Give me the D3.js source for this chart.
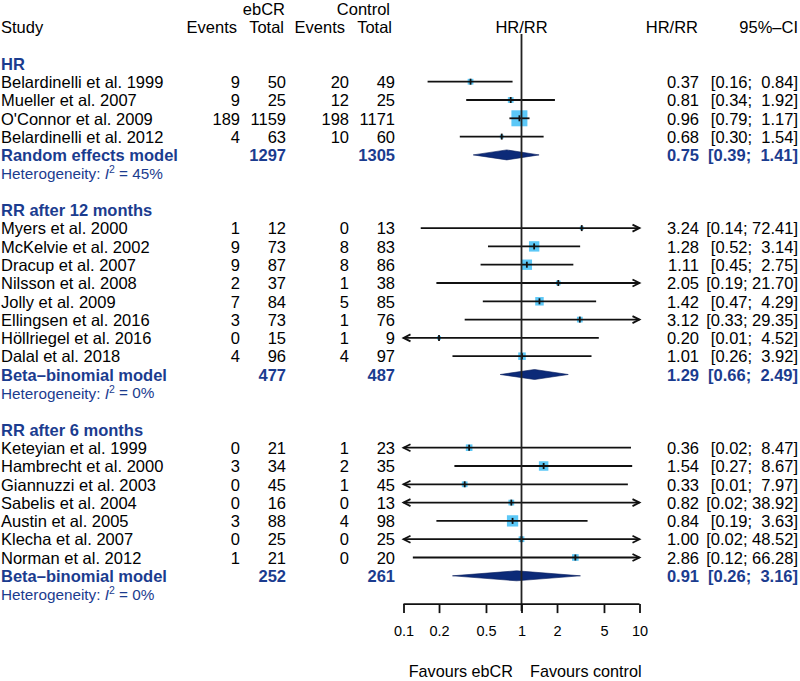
<!DOCTYPE html>
<html>
<head>
<meta charset="utf-8">
<script src="https://cdn.jsdelivr.net/npm/d3@7"></script>
<style>
  html, body { margin: 0; padding: 0; background: #fff; }
  svg text { font-family: "Liberation Sans", Arial, Helvetica, sans-serif; white-space: pre; }
</style>
</head>
<body>
<svg id="chart" width="800" height="681"></svg>
<script>
// ---------------- DATA ----------------
const groupLabels = ["HR", "RR after 12 months", "RR after 6 months"];

const studyGroup = [0,0,0,0, 1,1,1,1,1,1,1,1, 2,2,2,2,2,2,2];
const studyNames = [
  "Belardinelli et al. 1999", "Mueller et al. 2007", "O'Connor et al. 2009", "Belardinelli et al. 2012",
  "Myers et al. 2000", "McKelvie et al. 2002", "Dracup et al. 2007", "Nilsson et al. 2008",
  "Jolly et al. 2009", "Ellingsen et al. 2016", "Höllriegel et al. 2016", "Dalal et al. 2018",
  "Keteyian et al. 1999", "Hambrecht et al. 2000", "Giannuzzi et al. 2003", "Sabelis et al. 2004",
  "Austin et al. 2005", "Klecha et al. 2007", "Norman et al. 2012"
];
const eventsE = [9, 9, 189, 4,   1, 9, 9, 2, 7, 3, 0, 4,   0, 3, 0, 0, 3, 0, 1];
const totalE  = [50, 25, 1159, 63,   12, 73, 87, 37, 84, 73, 15, 96,   21, 34, 45, 16, 88, 25, 21];
const eventsC = [20, 12, 198, 10,   0, 8, 8, 1, 5, 1, 1, 4,   1, 2, 1, 0, 4, 0, 0];
const totalC  = [49, 25, 1171, 60,   13, 83, 86, 38, 85, 76, 9, 97,   23, 35, 45, 13, 98, 25, 20];
const estimate = [0.37, 0.81, 0.96, 0.68,   3.24, 1.28, 1.11, 2.05, 1.42, 3.12, 0.20, 1.01,   0.36, 1.54, 0.33, 0.82, 0.84, 1.00, 2.86];
const lowerCI  = [0.16, 0.34, 0.79, 0.30,   0.14, 0.52, 0.45, 0.19, 0.47, 0.33, 0.01, 0.26,   0.02, 0.27, 0.01, 0.02, 0.19, 0.02, 0.12];
const upperCI  = [0.84, 1.92, 1.17, 1.54,   72.41, 3.14, 2.75, 21.70, 4.29, 29.35, 4.52, 3.92,   8.47, 8.67, 7.97, 38.92, 3.63, 48.52, 66.28];
const weight   = [10, 10, 100, 3.5,   3.5, 39, 39, 6, 25, 10, 3.5, 19,   14, 32, 10, 10, 47, 10, 14];

const modelLabels = ["Random effects model", "Beta–binomial model", "Beta–binomial model"];
const modelTotalE = [1297, 477, 252];
const modelTotalC = [1305, 487, 261];
const modelEst    = [0.75, 1.29, 0.91];
const modelLower  = [0.39, 0.66, 0.26];
const modelUpper  = [1.41, 2.49, 3.16];
const hetI2       = ["45%", "0%", "0%"];

const tickValues = [0.1, 0.2, 0.5, 1, 2, 5, 10];
const tickLabels = ["0.1", "0.2", "0.5", "1", "2", "5", "10"];

// ---------------- LAYOUT ----------------
const BLUE = "#1b3c8f";
const NAVY = "#0c2a78";
const SQ = "#5cc8f7";
const FS = 16.5;
const LW = 1.8;
const svg = d3.select("#chart");

const x = d3.scaleLog().domain([0.1, 10]).range([403.5, 639.5]);
const row = d3.scaleLinear().domain([0, 1]).range([9, 27.3]);
const sqSize = d3.scaleSqrt().domain([0, 100]).range([1, 16]);
const f2 = d3.format(".2f");

const colEvE = 240, colTotE = 286, colEvC = 349, colTotC = 395;
const colEst = 699, colCI = 798;

function txt(xp, yp, s, opts = {}) {
  return svg.append("text")
    .attr("x", xp).attr("y", yp).attr("dy", "0.35em")
    .attr("text-anchor", opts.anchor || "start")
    .attr("font-size", opts.size || FS)
    .attr("font-weight", opts.bold ? "bold" : "normal")
    .attr("fill", opts.color || "#000")
    .text(s);
}
function ciText(lo, hi) {
  const h = f2(hi);
  const pad = hi < 10 ? "  " : " ";
  return "[" + f2(lo) + ";" + pad + h + "]";
}

// headers
txt(285, row(0), "ebCR", {anchor: "end"});
txt(390, row(0), "Control", {anchor: "end"});
txt(1, row(1), "Study");
txt(237, row(1), "Events", {anchor: "end"});
txt(284, row(1), "Total", {anchor: "end"});
txt(345, row(1), "Events", {anchor: "end"});
txt(392, row(1), "Total", {anchor: "end"});
txt(x(1), row(1), "HR/RR", {anchor: "middle"});
txt(698, row(1), "HR/RR", {anchor: "end"});
txt(colCI, row(1), "95%–CI", {anchor: "end"});

// build row indices
const groupStartRow = [3, 11, 23];
const studyRow = [];
{
  const counters = [0, 0, 0];
  studyGroup.forEach((g, i) => {
    counters[g] += 1;
    studyRow[i] = groupStartRow[g] + counters[g];
  });
}
const modelRow = groupStartRow.map((r, g) => r + studyGroup.filter(v => v === g).length + 1);
const hetRow = modelRow.map(r => r + 1);

const lastRowY = row(hetRow[2]);
const axisY = lastRowY + 9.5;

// group labels
groupLabels.forEach((g, i) => txt(1, row(groupStartRow[i]), g, {bold: true, color: BLUE}));

// diamonds & model rows
modelLabels.forEach((m, g) => {
  const yy = row(modelRow[g]);
  txt(1, yy, m, {bold: true, color: BLUE});
  txt(colTotE, yy, String(modelTotalE[g]), {anchor: "end", bold: true, color: BLUE});
  txt(colTotC, yy, String(modelTotalC[g]), {anchor: "end", bold: true, color: BLUE});
  txt(colEst, yy, f2(modelEst[g]), {anchor: "end", bold: true, color: BLUE});
  txt(colCI, yy, ciText(modelLower[g], modelUpper[g]), {anchor: "end", bold: true, color: BLUE});
  const cy = yy - 0.5;
  svg.append("path")
    .attr("d", `M${x(modelLower[g])},${cy} L${x(modelEst[g])},${cy - 5} L${x(modelUpper[g])},${cy} L${x(modelEst[g])},${cy + 5} Z`)
    .attr("fill", NAVY).attr("stroke", "#0a1f5c").attr("stroke-width", 0.6);

  const ht = svg.append("text")
    .attr("x", 1).attr("y", row(hetRow[g])).attr("dy", "0.35em")
    .attr("font-size", 15.3).attr("fill", BLUE);
  ht.append("tspan").text("Heterogeneity: ");
  ht.append("tspan").attr("font-style", "italic").text("I");
  ht.append("tspan").attr("font-size", 10.5).attr("dy", "-0.55em").text("2");
  ht.append("tspan").attr("dy", "0.35em").text(" = " + hetI2[g]);
});

// studies
studyNames.forEach((name, i) => {
  const yy = row(studyRow[i]);
  txt(1, yy, name);
  txt(colEvE, yy, String(eventsE[i]), {anchor: "end"});
  txt(colTotE, yy, String(totalE[i]), {anchor: "end"});
  txt(colEvC, yy, String(eventsC[i]), {anchor: "end"});
  txt(colTotC, yy, String(totalC[i]), {anchor: "end"});
  txt(colEst, yy, f2(estimate[i]), {anchor: "end"});
  txt(colCI, yy, ciText(lowerCI[i], upperCI[i]), {anchor: "end"});

  const cy = yy - 0.5;
  const s = sqSize(weight[i]);
  svg.append("rect")
    .attr("x", x(estimate[i]) - s / 2).attr("y", cy - s / 2)
    .attr("width", s).attr("height", s)
    .attr("fill", SQ);

  const lo = Math.max(lowerCI[i], 0.1), hi = Math.min(upperCI[i], 10);
  svg.append("line")
    .attr("x1", x(lo)).attr("x2", x(hi)).attr("y1", cy).attr("y2", cy)
    .attr("stroke", "#111").attr("stroke-width", LW);
  if (lowerCI[i] < 0.1) {
    const tx = x(0.1);
    svg.append("path").attr("d", `M${tx + 7},${cy - 3.5} L${tx},${cy} L${tx + 7},${cy + 3.5}`)
      .attr("fill", "none").attr("stroke", "#111").attr("stroke-width", LW);
  }
  if (upperCI[i] > 10) {
    const tx = x(10);
    svg.append("path").attr("d", `M${tx - 7},${cy - 3.5} L${tx},${cy} L${tx - 7},${cy + 3.5}`)
      .attr("fill", "none").attr("stroke", "#111").attr("stroke-width", LW);
  }
  svg.append("line")
    .attr("x1", x(estimate[i])).attr("x2", x(estimate[i]))
    .attr("y1", cy - 3).attr("y2", cy + 3)
    .attr("stroke", "#111").attr("stroke-width", LW);
});

// reference line (x = 1)
svg.append("line")
  .attr("x1", x(1)).attr("x2", x(1))
  .attr("y1", 34).attr("y2", axisY + 7)
  .attr("stroke", "#222").attr("stroke-width", 1.8);

// axis
const axis = d3.axisBottom(x)
  .tickValues(tickValues)
  .tickFormat((d, i) => tickLabels[i])
  .tickSize(9)
  .tickPadding(13);
const ag = svg.append("g").attr("transform", `translate(0,${axisY})`).call(axis);
ag.select(".domain").attr("d", `M${x(0.1)},0H${x(10)}`).attr("stroke", "#111").attr("stroke-width", LW);
ag.selectAll(".tick line").attr("stroke", "#111").attr("stroke-width", LW);
ag.selectAll(".tick text")
  .attr("font-size", 14.5)
  .attr("font-family", "Liberation Sans, Arial, sans-serif")
  .attr("fill", "#000");

txt(513, axisY + 67, "Favours ebCR", {anchor: "end", size: 16.2});
txt(530, axisY + 67, "Favours control", {anchor: "start", size: 16.2});
</script>
</body>
</html>
